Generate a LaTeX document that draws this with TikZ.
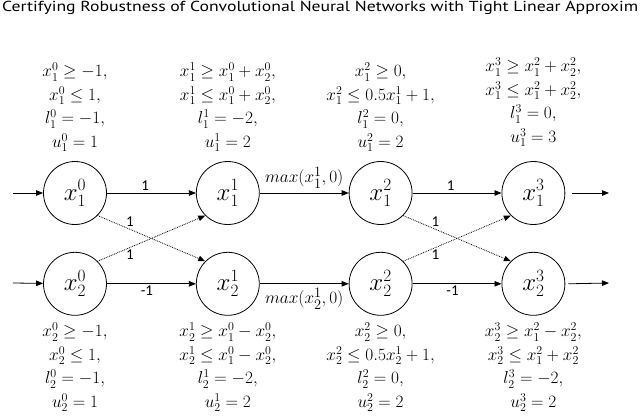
\documentclass[tikz,border=0pt]{standalone}
\usepackage{amsmath,amssymb}
\usepackage[no-math]{fontspec}
\setmainfont{Carlito}
\newfontfamily\titlefont[FakeStretch=1.22]{PT Sans}
\usetikzlibrary{arrows.meta,positioning}

\begin{document}
\begin{tikzpicture}[
    x=1pt, y=-1pt,
    >={Triangle[length=7pt,width=5.5pt]},
    neuron/.style={circle, draw, line width=0.8pt, minimum size=63pt,
      inner sep=0pt, font=\fontsize{24}{28}\selectfont},
    wt/.style={->, line width=0.8pt},
    cross/.style={wt, densely dotted},
    bnd/.style={align=center, inner sep=0pt, font=\fontsize{18.5}{23.5}\selectfont},
    elbl/.style={font=\fontsize{15}{17}\selectfont, inner sep=2pt},
    relu/.style={font=\fontsize{19}{22}\selectfont, inner sep=1pt},
    node distance=27pt and 89pt]

    \useasboundingbox (0,0) rectangle (640,418);
    \node[anchor=base west, inner sep=0pt, font=\titlefont\fontsize{14.5}{17}\selectfont]
      (title) at (2,11.5) {Certifying Robustness of Convolutional Neural Networks with Tight Linear Approxim};

    % neurons
    \node[neuron] (x10) at (75,193) {$x_1^0$};
    \node[neuron, below=of x10] (x20) {$x_2^0$};
    \node[neuron, right=of x10] (x11) {$x_1^1$};
    \node[neuron, right=of x20] (x21) {$x_2^1$};
    \node[neuron, right=of x11] (x12) {$x_1^2$};
    \node[neuron, right=of x21] (x22) {$x_2^2$};
    \node[neuron, right=of x12] (x13) {$x_1^3$};
    \node[neuron, right=of x22] (x23) {$x_2^3$};

    % bounds
    \node[bnd, above=9pt of x10] (b10) {$x_1^0 \geq -1,$\\ $x_1^0 \leq 1,$\\ $l_1^0 = -1,$\\ $u_1^0 = 1$};
    \node[bnd, above=9pt of x11] (b11) {$x_1^1 \geq x_1^0 + x_2^0,$\\ $x_1^1 \leq x_1^0 + x_2^0,$\\ $l_1^1 = -2,$\\ $u_1^1 = 2$};
    \node[bnd, above=9pt of x12] (b12) {$x_1^2 \geq 0,$\\ $x_1^2 \leq 0.5x_1^1 + 1,$\\ $l_1^2 = 0,$\\ $u_1^2 = 2$};
    \node[bnd, above=14pt of x13] (b13) {$x_1^3 \geq x_1^2 + x_2^2,$\\ $x_1^3 \leq x_1^2 + x_2^2,$\\ $l_1^3 = 0,$\\ $u_1^3 = 3$};
    \node[bnd, below=7pt of x20] (b20) {$x_2^0 \geq -1,$\\ $x_2^0 \leq 1,$\\ $l_2^0 = -1,$\\ $u_2^0 = 1$};
    \node[bnd, below=7pt of x21] (b21) {$x_2^1 \geq x_1^0 - x_2^0,$\\ $x_2^1 \leq x_1^0 - x_2^0,$\\ $l_2^1 = -2,$\\ $u_2^1 = 2$};
    \node[bnd, below=7pt of x22] (b22) {$x_2^2 \geq 0,$\\ $x_2^2 \leq 0.5x_2^1 + 1,$\\ $l_2^2 = 0,$\\ $u_2^2 = 2$};
    \node[bnd, below=7pt of x23] (b23) {$x_2^3 \geq x_1^2 - x_2^2,$\\ $x_2^3 \leq x_1^2 + x_2^2$\\ $l_2^3 = -2,$\\ $u_2^3 = 2$};

    % inputs and outputs
    \coordinate (in1) at (13,193);
    \coordinate (in2) at (13,283);
    \coordinate[right=7pt of x13.east] (o1s);
    \coordinate[right=3pt of x23.east] (o2s);
    \coordinate (o1) at (609,193);
    \coordinate (o2) at (609,283);
    \draw[wt] (in1) -- (x10);
    \draw[wt] (in2) -- (x20);
    \draw[wt] (o1s) -- (o1);
    \draw[wt] (o2s) -- (o2);

    % layer 0 -> 1
    \draw[wt] (x10) -- node[elbl, above, pos=0.43]{1} (x11);
    \draw[wt] (x20) -- node[elbl, below, pos=0.45]{-1} (x21);
    \draw[cross] (x10.south east) -- node[elbl, above, pos=0.3]{1} (x21.north west);
    \draw[cross] (x20.north east) -- node[elbl, below, pos=0.3]{1} (x11.south west);

    % layer 1 -> 2
    \draw[wt] (x11) -- node[relu, above=3pt]{$max(x_1^1, 0)$} (x12);
    \draw[wt] (x21) -- node[relu, below=3pt]{$max(x_2^1, 0)$} (x22);

    % layer 2 -> 3
    \draw[wt] (x12) -- node[elbl, above, pos=0.43]{1} (x13);
    \draw[wt] (x22) -- node[elbl, below, pos=0.45]{-1} (x23);
    \draw[cross] (x12.south east) -- node[elbl, above, pos=0.3]{1} (x23.north west);
    \draw[cross] (x22.north east) -- node[elbl, below, pos=0.3]{1} (x13.south west);
  \end{tikzpicture}
\end{document}
